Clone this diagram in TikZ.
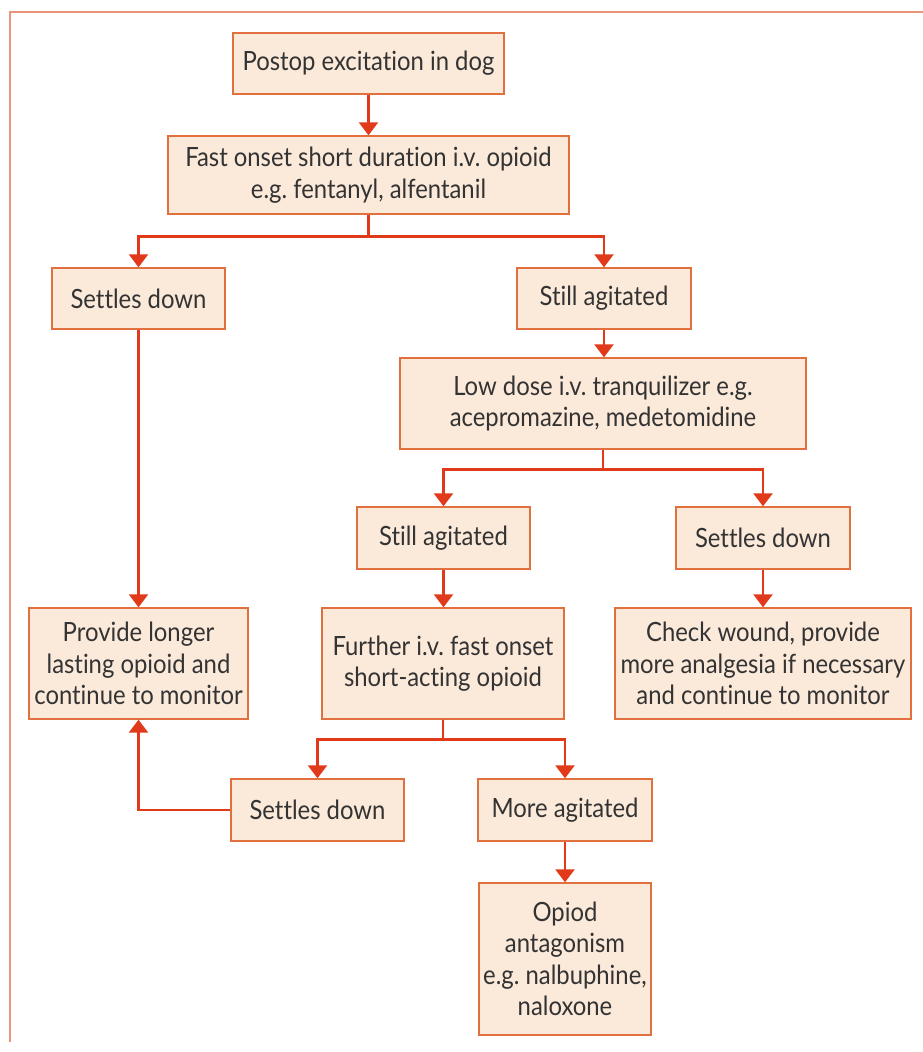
\documentclass[tikz,border=0pt]{standalone}
\usepackage{fontspec}
\setmainfont{Lato}[FakeStretch=0.9, Ligatures=NoCommon]
\usetikzlibrary{arrows.meta}
\definecolor{boxfill}{HTML}{FBE9DA}
\definecolor{boxline}{HTML}{E2703E}
\definecolor{arrowcol}{HTML}{E03A1A}
\definecolor{framecol}{HTML}{E8957A}
\definecolor{txt}{HTML}{333333}
\begin{document}
\begin{tikzpicture}[x=1pt,y=-1pt,
  box/.style={draw=boxline, line width=1.4pt, fill=boxfill, text=txt, align=center,
    inner sep=2pt, font=\fontsize{26.5}{31.5}\selectfont},
  conn/.style={draw=arrowcol, line width=2.6pt},
  arr/.style={conn, -{Triangle[width=19pt,length=13pt]}}]
\useasboundingbox (0,0) rectangle (923,1052);
\fill[white] (0,0) rectangle (923,1052);
% frame
\draw[framecol, line width=1.6pt] (10,1042) -- (10,12) -- (923,12);

% nodes
\node[box, minimum width=271pt, minimum height=61pt] (postop) at (368.5,63.5) {Postop excitation in dog};
\node[box, minimum width=401pt, minimum height=78pt] (fast) at (368.5,175) {Fast onset short duration i.v.\ opioid\\e.g.\ fentanyl, alfentanil};
\node[box, minimum width=173pt, minimum height=61pt] (settlesA) at (138.5,298.5) {Settles down};
\node[box, minimum width=174pt, minimum height=61pt] (stillA) at (604,298.5) {Still agitated};
\node[box, minimum width=406pt, minimum height=91pt] (low) at (603,403.5) {Low dose i.v.\ tranquilizer e.g.\\acepromazine, medetomidine};
\node[box, minimum width=173pt, minimum height=62pt] (stillB) at (443.5,538) {Still agitated};
\node[box, minimum width=174pt, minimum height=62pt] (settlesB) at (763,538) {Settles down};
\node[box, minimum width=219pt, minimum height=111pt] (provide) at (138.5,663.5) {Provide longer\\lasting opioid and\\continue to monitor};
\node[box, minimum width=242pt, minimum height=111pt] (further) at (443,663.5) {Further i.v.\ fast onset\\short-acting opioid};
\node[box, minimum width=296pt, minimum height=111pt] (check) at (763,663.5) {Check wound, provide\\more analgesia if necessary\\and continue to monitor};
\node[box, minimum width=173pt, minimum height=62pt] (settlesC) at (317.5,810) {Settles down};
\node[box, minimum width=174pt, minimum height=62pt] (more) at (565,810) {More agitated};
\node[box, minimum width=172pt, minimum height=152pt] (opioid) at (565,959) {Opiod\\antagonism\\e.g.\ nalbuphine,\\naloxone};

% connectors
\draw[arr] (postop.south) -- (fast.north);
\draw[conn] (fast.south) -- ++(0,22) coordinate (j1);
\draw[arr] (j1) -| (settlesA.north);
\draw[arr] (j1) -| (stillA.north);
\draw[arr] (settlesA.south) -- (provide.north);
\draw[arr] (stillA.south) -- (stillA.south |- low.north);
\draw[conn] (low.south) -- ++(0,20) coordinate (j2);
\draw[arr] (j2) -| (stillB.north);
\draw[arr] (j2) -| (settlesB.north);
\draw[arr] (stillB.south) -- (stillB.south |- further.north);
\draw[arr] (settlesB.south) -- (check.north);
\draw[conn] (further.south) -- ++(0,20) coordinate (j3);
\draw[arr] (j3) -| (settlesC.north);
\draw[arr] (j3) -| (more.north);
\draw[arr] (settlesC.west) -| (provide.south);
\draw[arr] (more.south) -- (opioid.north);
\end{tikzpicture}
\end{document}
